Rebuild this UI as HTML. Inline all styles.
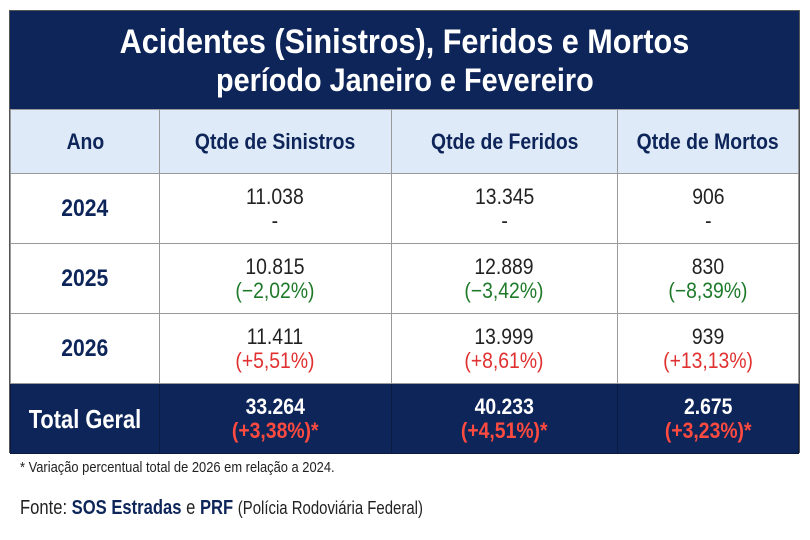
<!DOCTYPE html>
<html><head><meta charset="utf-8"><style>
*{margin:0;padding:0;box-sizing:border-box}
body{width:810px;height:540px;background:#fff;font-family:"Liberation Sans",sans-serif;position:relative;overflow:hidden}
.c{display:inline-block;transform:scaleX(.88);transform-origin:center;white-space:nowrap}
.tbl{position:absolute;left:9px;top:10px;width:791px;height:443px;border:1px solid #555}
.title{position:absolute;left:0;top:0;width:100%;height:98px;background:#0d2559;color:#fff;text-align:center;font-weight:bold;font-size:34px;line-height:38px;padding-top:12px}
.title .c{transform:scaleX(.9)}
.title .l2{font-size:32px}
table{position:absolute;left:0;top:98px;border-collapse:collapse;width:789px}
td{border:1px solid #999;text-align:center;vertical-align:middle;font-size:22px;line-height:24px;color:#222}
tr.h td{background:#dfeaf8;height:64px;color:#0d2559;font-weight:bold;font-size:22px}
tr.r td{height:70px}
td.y{color:#0d2559;font-weight:bold;font-size:24px}
.g{color:#1e7a2a}.rd{color:#e03030}
tr.t td{background:#0d2559;color:#fff;font-weight:bold;height:70px;font-size:22px;border-color:#0a1a40}
tr.t td.y{color:#fff;font-size:26px}
tr.t td.y .c{transform:scaleX(.84)}
tr.t .rd{color:#ff4a40}
.note{position:absolute;left:20px;top:459px;font-size:15px;color:#222;transform:scaleX(.86);transform-origin:left;white-space:nowrap}
.src{position:absolute;left:20px;top:497px;font-size:20px;color:#222;transform:scaleX(.83);transform-origin:left;white-space:nowrap}
.src b{color:#0d2559}
</style></head><body>
<div class="tbl">
<div class="title"><span class="c">Acidentes (Sinistros), Feridos e Mortos</span><br><span class="c l2">período Janeiro e Fevereiro</span></div>
<table>
<colgroup><col style="width:149px"><col style="width:232px"><col style="width:227px"><col style="width:181px"></colgroup>
<tr class="h"><td><span class="c">Ano</span></td><td><span class="c">Qtde de Sinistros</span></td><td><span class="c">Qtde de Feridos</span></td><td><span class="c">Qtde de Mortos</span></td></tr>
<tr class="r"><td class="y"><span class="c">2024</span></td><td><span class="c">11.038<br>-</span></td><td><span class="c">13.345<br>-</span></td><td><span class="c">906<br>-</span></td></tr>
<tr class="r"><td class="y"><span class="c">2025</span></td><td><span class="c">10.815<br><span class="g">(−2,02%)</span></span></td><td><span class="c">12.889<br><span class="g">(−3,42%)</span></span></td><td><span class="c">830<br><span class="g">(−8,39%)</span></span></td></tr>
<tr class="r"><td class="y"><span class="c">2026</span></td><td><span class="c">11.411<br><span class="rd">(+5,51%)</span></span></td><td><span class="c">13.999<br><span class="rd">(+8,61%)</span></span></td><td><span class="c">939<br><span class="rd">(+13,13%)</span></span></td></tr>
<tr class="t"><td class="y"><span class="c">Total Geral</span></td><td><span class="c">33.264<br><span class="rd">(+3,38%)*</span></span></td><td><span class="c">40.233<br><span class="rd">(+4,51%)*</span></span></td><td><span class="c">2.675<br><span class="rd">(+3,23%)*</span></span></td></tr>
</table>
</div>
<div class="note">* Variação percentual total de 2026 em relação a 2024.</div>
<div class="src">Fonte: <b>SOS Estradas</b> e <b>PRF</b> <span style="font-size:18px">(Polícia Rodoviária Federal)</span></div>
</body></html>
